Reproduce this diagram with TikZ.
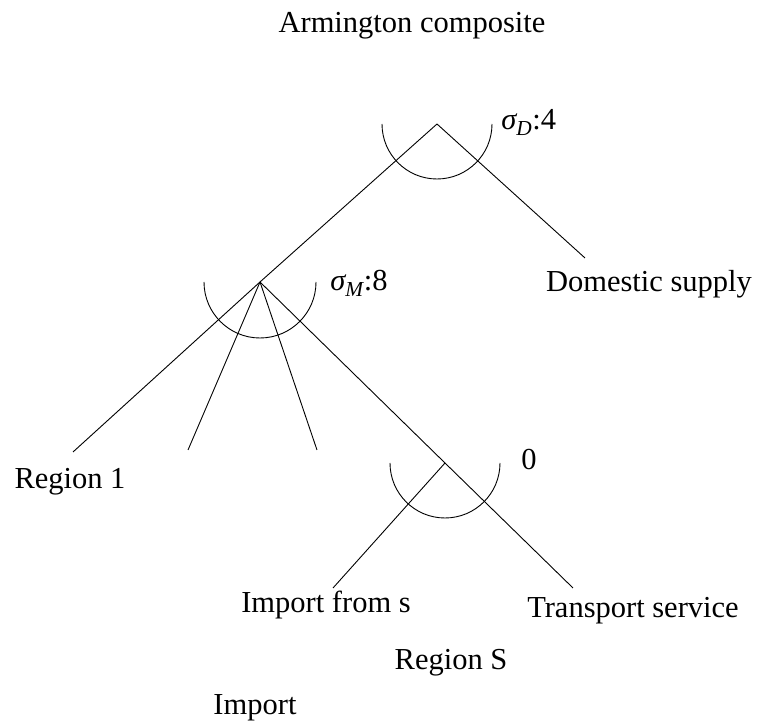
\documentclass[tikz,border=0pt]{standalone}
\usepackage{amsmath}
\usepackage{fontspec}
\setmainfont{Liberation Serif}
\usepackage{tikz}

\begin{document}
\begin{tikzpicture}[
    x=1pt, y=1pt,
    line width=0.9pt,
    label/.style={font=\fontsize{30.5}{34}\selectfont, inner sep=0pt, anchor=base},
    elast/.style={label, anchor=base west},
    branch/.style={draw}
]
    \useasboundingbox (0,0) rectangle (764,728);

    % Place nodes
    \coordinate (top) at (437,604);
    \coordinate (imp) at (260,446);
    \coordinate (regS) at (445,265);
    \coordinate (domend) at (585,470);
    \coordinate (r1end) at (73,276);
    \coordinate (r2end) at (188,278);
    \coordinate (r3end) at (317,278);
    \coordinate (fromend) at (333,140);
    \coordinate (transend) at (573,140);

    \node[label] (armington) at (412,695) {Armington composite};
    \node[label] (domestic) at (649,436) {Domestic supply};
    \node[label] (region1) at (70,239) {Region 1};
    \node[label] (fromS) at (326,115) {Import from s};
    \node[label] (transport) at (633,110) {Transport service};
    \node[label] (regionS) at (451,58) {Region S};
    \node[label] (import) at (255,13) {Import};
    \node[elast] (sigD) at (501,598) {$\textit{σ}_{\textit{D}}$:4};
    \node[elast] (sigM) at (330,437) {$\textit{σ}_{\textit{M}}$:8};
    \node[elast] (sigS) at (521,258) {0};

    % Add connections
    \draw[branch] (top) -- (imp);
    \draw[branch] (top) -- (domend);
    \draw[branch] (imp) -- (r1end);
    \draw[branch] (imp) -- (r2end);
    \draw[branch] (imp) -- (r3end);
    \draw[branch] (imp) -- (regS);
    \draw[branch] (regS) -- (fromend);
    \draw[branch] (regS) -- (transend);

    % Elasticity arcs
    \draw ([xshift=-55pt]top) arc (180:360:55pt);
    \draw ([xshift=-56pt]imp) arc (180:360:56pt);
    \draw ([xshift=-55pt]regS) arc (180:360:55pt);
\end{tikzpicture}
\end{document}
